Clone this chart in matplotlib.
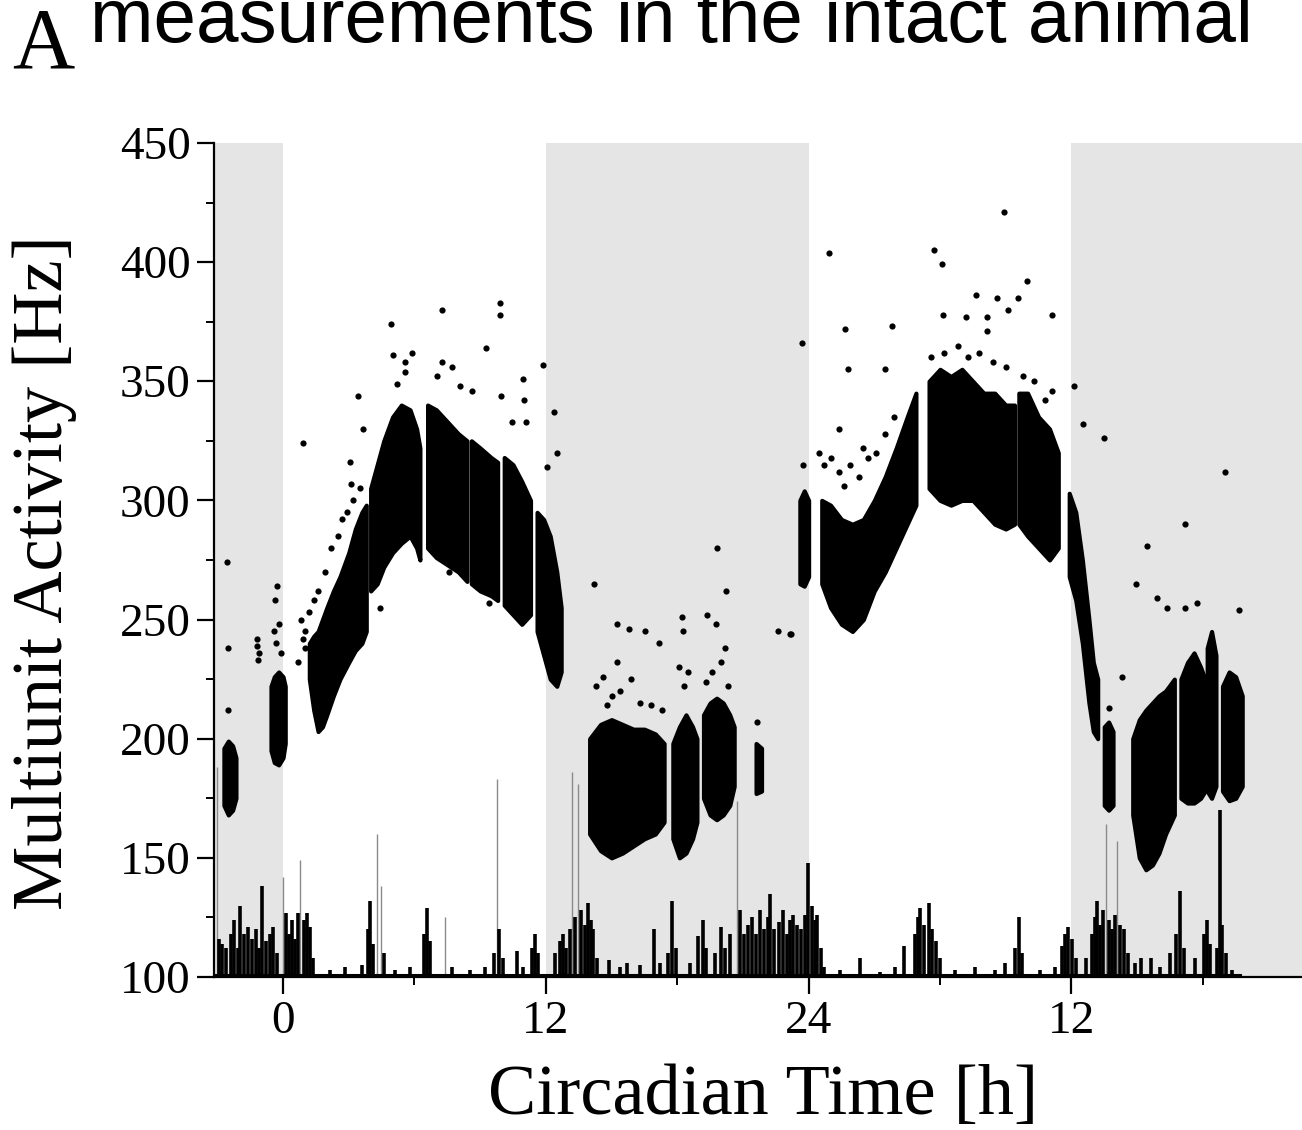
import numpy as np
import matplotlib
matplotlib.use('Agg')
import matplotlib.pyplot as plt
from matplotlib.ticker import FixedLocator, MultipleLocator

plt.rcParams['font.family'] = ['Liberation Serif', 'DejaVu Serif']

# shaded (dark) phases, circadian time in hours
dark_start = [-3.15, 12, 36]
dark_end = [0, 24, 46.6]

# dense clusters of the multiunit rate: (time [h], lower edge [Hz], upper edge [Hz])
dark0_clusters = [
    ([-2.7, -2.5, -2.3, -2.15], [172, 168, 170, 175], [196, 199, 197, 192]),
    ([-0.55, -0.4, -0.2, 0.0, 0.1], [195, 190, 189, 192, 198], [222, 226, 228, 226, 222]),
]
light1_clusters = [
    ([1.2, 1.4, 1.6, 1.8, 2.0, 2.3, 2.6, 3.0, 3.3, 3.6, 3.8],
     [225, 212, 203, 205, 210, 218, 225, 232, 237, 240, 245],
     [240, 243, 245, 250, 255, 262, 268, 278, 288, 295, 298]),
    ([4.0, 4.3, 4.6, 5.0, 5.4, 5.8, 6.1, 6.25],
     [262, 265, 272, 278, 282, 285, 280, 275],
     [305, 315, 325, 335, 340, 338, 330, 322]),
    ([6.6, 7.0, 7.5, 8.0, 8.4], [280, 276, 273, 270, 266], [340, 338, 333, 328, 325]),
    ([8.6, 9.0, 9.5, 9.8], [265, 262, 260, 258], [325, 322, 318, 316]),
    ([10.1, 10.5, 10.9, 11.3], [256, 252, 248, 252], [318, 315, 308, 300]),
    ([11.6, 11.9, 12.2, 12.5, 12.7], [245, 235, 225, 222, 228], [295, 292, 285, 270, 255]),
]
dark1_clusters = [
    ([14.0, 14.5, 15.0, 15.5, 16.0, 16.5, 17.0, 17.4],
     [160, 153, 150, 152, 155, 158, 160, 165],
     [200, 206, 208, 206, 204, 204, 202, 198]),
    ([17.8, 18.1, 18.4, 18.7, 18.9], [158, 150, 152, 158, 165], [198, 205, 210, 205, 200]),
    ([19.2, 19.5, 19.8, 20.1, 20.4, 20.6], [175, 168, 166, 168, 172, 180], [210, 215, 217, 215, 210, 205]),
    ([21.6, 21.85], [177, 178], [198, 196]),
]
light2_clusters = [
    ([23.6, 23.8, 24.0], [265, 264, 268], [300, 304, 300]),
    ([24.6, 25.0, 25.5, 26.0, 26.5, 27.0, 27.5, 28.0, 28.5, 28.9],
     [265, 255, 248, 245, 250, 262, 270, 280, 290, 298],
     [300, 298, 292, 290, 292, 300, 310, 322, 335, 345]),
    ([29.5, 30.0, 30.5, 31.0, 31.5, 32.0, 32.5, 33.0, 33.4],
     [305, 300, 298, 300, 300, 295, 290, 288, 290],
     [350, 355, 352, 355, 350, 345, 345, 340, 340]),
    ([33.6, 34.0, 34.5, 35.0, 35.4], [290, 285, 280, 275, 280], [345, 345, 335, 330, 320]),
]
dark2_clusters = [
    ([35.9, 36.2, 36.5, 36.8, 37.0, 37.2], [268, 258, 240, 215, 203, 200], [303, 295, 275, 250, 232, 225]),
    ([37.5, 37.7, 37.9], [172, 170, 172], [205, 207, 203]),
    ([38.8, 39.1, 39.4, 39.7, 40.0, 40.3, 40.7], [168, 150, 145, 147, 152, 160, 168], [200, 208, 212, 215, 218, 220, 225]),
    ([41.0, 41.3, 41.6, 41.9, 42.1], [175, 173, 173, 175, 178], [225, 232, 236, 230, 225]),
    ([42.2, 42.4, 42.6], [178, 175, 180], [238, 245, 235]),
    ([42.9, 43.2, 43.5, 43.8], [178, 174, 175, 180], [222, 228, 226, 218]),
]

# scattered single measurements
dots_t = [-2.56, -2.51, -2.51, -1.2, -1.1, -1.15, -1.2, -0.3, -0.2, -0.1, -0.4, -0.27, -0.37,
          0.8, 0.9, 1.0, 1.0, 0.7, 1.2, 1.4, 1.6, 1.9, 2.2, 2.5, 2.7, 2.9, 3.2, 3.5,
          0.91, 3.42, 3.65, 3.06, 3.11, 4.93, 5.02, 5.89, 5.57, 5.57, 5.21, 7.26, 7.26, 7.72,
          7.03, 8.08, 8.63, 9.27, 9.91, 9.91, 9.95, 10.96, 11.87, 11.0, 10.46, 11.10, 12.37,
          12.51, 12.05, 7.58, 9.41, 4.43,
          14.20, 15.25, 15.80, 16.53, 17.17, 18.22, 18.26, 19.36, 19.82, 20.23, 19.77, 20.18,
          15.25, 21.64, 22.6, 23.15, 23.70,
          14.3, 14.6, 15.0, 15.4, 15.9, 16.3, 16.8, 17.3, 18.3, 18.5, 18.1, 19.3, 19.6, 20.0, 20.3, 14.8,
          24.93, 29.73, 30.09, 32.92, 33.97, 33.56, 32.60, 31.64, 33.11, 35.11, 30.14, 31.19,
          32.15, 32.15, 25.66, 27.81, 25.80, 27.49, 36.12, 36.53, 37.49, 43.01, 41.19, 39.45,
          38.95, 39.91, 43.65, 40.37, 41.19, 41.74, 23.20, 25.39, 24.47, 23.74,
          24.7, 25.0, 25.4, 25.9, 26.3, 26.7, 27.1, 27.5, 27.9, 26.5, 25.6,
          29.6, 30.2, 30.8, 31.3, 31.8, 32.4, 33.0, 33.8, 34.3, 34.8, 35.1, 37.7, 38.3]
dots_v = [274, 238, 212, 242, 236, 233, 239, 240, 248, 236, 245, 264, 258,
          250, 242, 238, 245, 232, 253, 258, 262, 270, 280, 285, 292, 295, 300, 305,
          324, 344, 330, 316, 307, 374, 361, 362, 358, 354, 349, 380, 358, 356,
          352, 348, 346, 364, 383, 378, 344, 351, 357, 342, 333, 333, 337,
          320, 314, 270, 257, 255,
          265, 248, 246, 245, 240, 251, 245, 252, 280, 262, 248, 238,
          232, 207, 245, 244, 366,
          222, 226, 218, 220, 225, 215, 214, 212, 222, 228, 230, 224, 228, 232, 222, 214,
          404, 405, 399, 421, 392, 385, 385, 386, 380, 378, 378, 377,
          377, 371, 372, 373, 355, 355, 348, 332, 326, 312, 290, 281,
          265, 259, 254, 255, 255, 257, 244, 330, 320, 315,
          315, 318, 312, 315, 310, 318, 320, 328, 335, 322, 306,
          360, 362, 365, 360, 362, 358, 356, 352, 350, 342, 346, 213, 226]

# locomotor activity trace (bottom), spike time [h] and peak [Hz]
act_t = [-2.92, -2.79, -2.60, -2.37, -2.24, -2.05, -1.96, -1.78, -1.60, -1.42, -1.23, -1.10,
         -0.96, -0.78, -0.59, -0.46, -0.27, 0.14, 0.27, 0.41, 0.55, 0.68, 0.96, 1.10, 1.23, 1.37,
         2.15, 2.83, 3.61, 3.88, 3.97, 4.11, 4.61, 5.11, 5.80, 6.44, 6.58, 6.71, 7.72, 8.54,
         9.22, 9.63, 9.86, 10.05, 10.68, 10.96, 11.37, 11.51, 11.64,
         12.42, 12.65, 12.79, 12.92, 13.11, 13.33, 13.61, 13.79, 13.93, 14.06, 14.16, 14.34,
         14.89, 15.39, 15.71, 16.30, 16.94, 17.21, 17.58, 17.76, 17.95, 18.58, 18.95, 19.18,
         19.32, 19.73, 20.00, 20.18, 20.41, 20.87, 21.05, 21.23, 21.42, 21.60, 21.78, 21.96,
         22.15, 22.24, 22.42, 22.65, 22.83, 23.01, 23.15, 23.29, 23.47, 23.65, 23.84, 23.97,
         24.16, 24.29, 24.38, 24.57, 24.70,
         25.43, 26.35, 27.26, 27.95, 28.36, 28.86, 28.99, 29.09, 29.27, 29.50, 29.63, 29.82,
         30.00, 30.68, 31.60, 32.51, 32.97, 33.42, 33.61, 33.74, 34.57, 35.25,
         35.57, 35.71, 35.84, 36.03, 36.21, 36.67, 36.94, 37.08, 37.17, 37.31, 37.44, 37.72,
         37.85, 37.99, 38.22, 38.40, 38.58, 38.90, 39.18, 39.63, 40.05, 40.50, 40.78, 40.96,
         41.14, 41.64, 42.05, 42.19, 42.33, 42.65, 42.79, 42.88, 43.06, 43.33]
act_v = [116, 114, 112, 118, 124, 112, 130, 118, 121, 116, 120, 112,
         138, 115, 118, 121, 110, 127, 118, 124, 116, 127, 124, 127, 121, 108,
         103, 104, 105, 120, 132, 114, 110, 103, 104, 118, 129, 115, 104, 103,
         104, 110, 120, 108, 111, 104, 112, 118, 110,
         110, 115, 118, 112, 120, 125, 128, 122, 131, 124, 120, 108,
         107, 104, 106, 105, 120, 106, 110, 132, 112, 106, 117, 124,
         112, 110, 121, 112, 118, 128, 118, 122, 125, 118, 128, 120,
         125, 135, 120, 123, 128, 118, 124, 126, 122, 120, 126, 148,
         130, 124, 126, 112, 104,
         103, 108, 102, 104, 113, 118, 125, 129, 122, 131, 120, 115,
         108, 103, 104, 103, 106, 112, 125, 110, 103, 104,
         113, 118, 121, 116, 108, 108, 118, 125, 132, 122, 128, 124,
         120, 126, 122, 120, 110, 106, 108, 108, 104, 110, 118, 136,
         112, 108, 118, 124, 114, 112, 170, 122, 110, 103]
# thin grey single spikes
tall_t = [-3.01, 0.0, 0.78, 4.29, 4.47, 7.40, 9.77, 13.20, 13.47, 20.73, 37.58, 38.08]
tall_v = [188, 142, 149, 160, 138, 125, 183, 186, 181, 174, 164, 157]

xtick_pos = [0, 12, 24, 36]
xtick_lab = ['0', '12', '24', '12']

fig = plt.figure(figsize=(13.02, 11.30), dpi=100)
ax = fig.add_axes([0.1644, 0.1354, 0.8356, 0.7381])

for a, b in zip(dark_start, dark_end):
    ax.axvspan(a, b, color='#e5e5e5', lw=0, zorder=0)

for group in [dark0_clusters, light1_clusters, dark1_clusters, light2_clusters, dark2_clusters]:
    for t, lo, hi in group:
        ax.fill_between(t, lo, hi, color='black', lw=3, edgecolor='black', zorder=3)

ax.scatter(dots_t, dots_v, s=20, color='black', lw=0, zorder=3)

ax.vlines(tall_t, 100, tall_v, color='#8a8a8a', lw=1.0, zorder=2)
ax.vlines(act_t, 100, act_v, color='black', lw=2.6, zorder=2)
ax.plot([-3.1, 43.7], [101, 101], color='black', lw=2.2, zorder=2)

ax.set_xlim(-3.15, 46.53)
ax.set_ylim(100, 450)
ax.spines['top'].set_visible(False)
ax.spines['right'].set_visible(False)
ax.spines['left'].set_linewidth(1.6)
ax.spines['bottom'].set_linewidth(1.6)

ax.yaxis.set_major_locator(MultipleLocator(50))
ax.yaxis.set_minor_locator(MultipleLocator(25))
ax.xaxis.set_major_locator(FixedLocator(xtick_pos))
ax.set_xticklabels(xtick_lab)
ax.xaxis.set_minor_locator(FixedLocator([6, 18, 30, 42]))
ax.tick_params(which='major', direction='out', length=12, width=1.6, labelsize=34, pad=5)
ax.tick_params(which='minor', direction='out', length=6, width=1.4)

fig.text(45 / 1302, 1 - 573 / 1130, 'Multiunit Activity [Hz]', rotation=90,
         ha='center', va='center', fontsize=52)
fig.text(763 / 1302, 1 - 1097 / 1130, 'Circadian Time [h]', ha='center', va='center', fontsize=52)
fig.text(12 / 1302, 1 - 68 / 1130, 'A', ha='left', va='baseline', fontsize=62)
fig.text(90 / 1302, 1 - 42 / 1130, 'measurements in the intact animal', ha='left', va='baseline',
         fontsize=55, family=['Liberation Sans', 'DejaVu Sans'])

fig.savefig('out.png', dpi=100)
